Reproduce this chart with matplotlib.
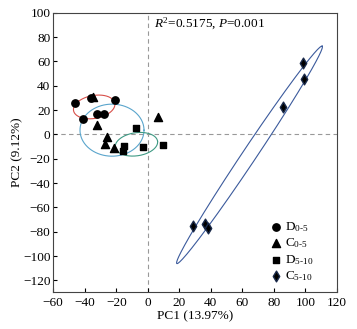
import numpy as np
import matplotlib
matplotlib.use("Agg")
import matplotlib.pyplot as plt

plt.rcParams["font.family"] = ["Liberation Serif", "DejaVu Serif"]
plt.rcParams["mathtext.fontset"] = "custom"
plt.rcParams["mathtext.rm"] = "Liberation Serif"
plt.rcParams["mathtext.it"] = "Liberation Serif:italic"

# PCA scores per group (PC1, PC2)
d05_x = [-46.2, -40.9, -36.0, -32.0, -27.8, -20.8]
d05_y = [25.5, 12.3, 29.6, 16.4, 16.7, 28.2]
c05_x = [-34.6, -32.4, -26.1, -27.1, -21.2, 6.4]
c05_y = [30.9, 7.6, -2.0, -8.2, -11.5, 14.5]
d510_x = [-7.4, -14.9, -15.5, -3.2, 9.9]
d510_y = [5.4, -9.6, -13.7, -10.2, -8.8]
c510_x = [98.7, 99.2, 85.8, 28.4, 36.0, 37.9]
c510_y = [58.4, 45.2, 22.7, -75.2, -74.0, -77.3]

labels = ["D$_{0\\text{-}5}$", "C$_{0\\text{-}5}$", "D$_{5\\text{-}10}$", "C$_{5\\text{-}10}$"]

# ellipses: centre, major semi-axis vector, minor semi-axis vector (data units)
ell_centres = [(-34.0, 22.6), (-22.7, 3.5), (-7.2, -8.1), (64.5, -16.8)]
ell_major = [(13.1, 3.0), (20.3, 0.0), (13.4, 2.5), (46.1, 89.4)]
ell_minor = [(1.2, -9.3), (0.0, -21.4), (1.0, -9.4), (3.7, -3.2)]
ell_colors = ["#d8504a", "#5aa5cc", "#3f9a84", "#3b5a9c"]

fig = plt.figure(figsize=(3.57, 3.29), dpi=100)
ax = fig.add_axes([0.149, 0.111, 0.795, 0.850])

ax.axhline(0, color="#999999", ls=(0, (4, 3)), lw=0.8, zorder=1)
ax.axvline(0, color="#999999", ls=(0, (4, 3)), lw=0.8, zorder=1)

t = np.linspace(0, 2 * np.pi, 300)
for c, u, v, col in zip(ell_centres, ell_major, ell_minor, ell_colors):
    ex = c[0] + u[0] * np.cos(t) + v[0] * np.sin(t)
    ey = c[1] + u[1] * np.cos(t) + v[1] * np.sin(t)
    ax.plot(ex, ey, color=col, lw=0.8, zorder=2)

ax.scatter(d05_x, d05_y, marker="o", s=28, color="black", zorder=3, label=labels[0])
ax.scatter(c05_x, c05_y, marker="^", s=34, color="black", zorder=3, label=labels[1])
ax.scatter(d510_x, d510_y, marker="s", s=24, color="black", zorder=3, label=labels[2])
ax.scatter(c510_x, c510_y, marker="d", s=30, color="black", edgecolor="#1a2a4a",
           zorder=3, label=labels[3])

ax.text(4, 91, "$R^2$=0.5175, $P$=0.001", fontsize=9.5, va="center", ha="left")

ax.set_xlim(-60, 120)
ax.set_ylim(-130, 100)
ax.set_xticks(np.arange(-60, 121, 20))
ax.set_yticks(np.arange(-120, 101, 20))
ax.tick_params(direction="in", length=3, width=0.8, labelsize=9.5)
ax.tick_params(axis="x", pad=3)
ax.tick_params(axis="y", pad=2)
for s in ax.spines.values():
    s.set_color("#444444")
    s.set_linewidth(0.8)

ax.set_xlabel("PC1 (13.97%)", fontsize=9.5, labelpad=1)
ax.set_ylabel("PC2 (9.12%)", fontsize=9.5, labelpad=0)

ax.legend(loc="lower right", frameon=False, fontsize=9.5, handletextpad=0.1,
          labelspacing=0.2, borderaxespad=0.3, handlelength=1.2,
          bbox_to_anchor=(0.95, 0.0))

fig.savefig("out.png", dpi=100)
